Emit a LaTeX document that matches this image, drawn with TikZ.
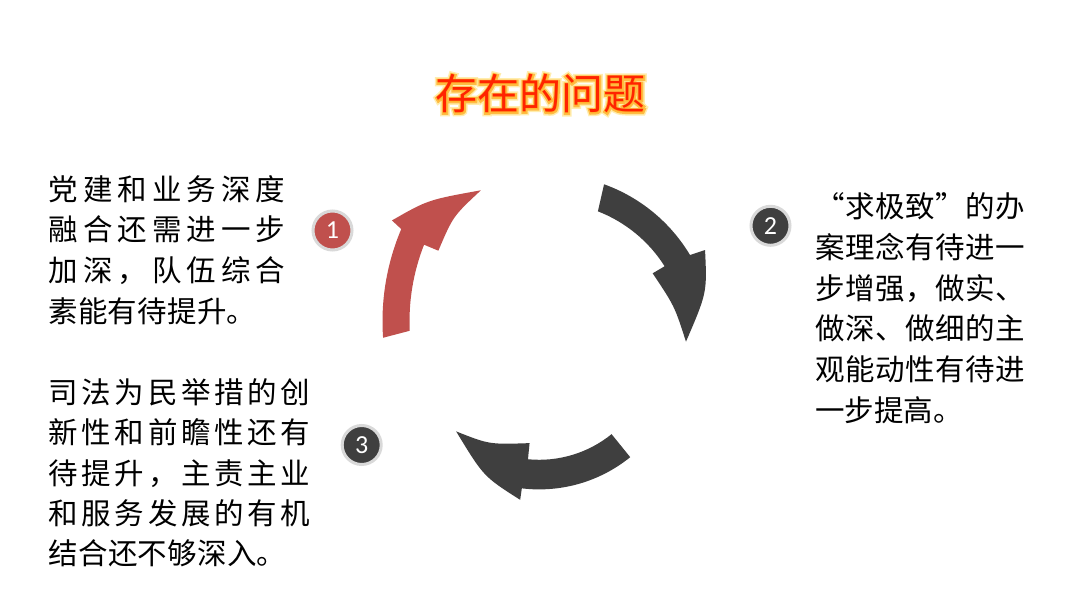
\documentclass[tikz,border=0pt]{standalone}
\usepackage{fontspec}
\setmainfont{Noto Sans CJK SC}
\newfontfamily\numfont{Carlito}
\newfontfamily\glowwide[FakeBold=15]{Noto Sans CJK SC}
\newfontfamily\glownarrow[FakeBold=8]{Noto Sans CJK SC}
\usetikzlibrary{calc}
\definecolor{arrowred}{HTML}{C0504D}
\definecolor{arrowdark}{HTML}{3F3F3F}
\definecolor{ringgray}{HTML}{D9D9D9}
\definecolor{titlered}{RGB}{255,36,0}
\definecolor{glowyellow}{RGB}{255,226,120}
\definecolor{gloworange}{RGB}{255,176,40}
\def\jsp#1{\ifx#1\relax\else#1\hfill\expandafter\jsp\fi}
\newcommand\jline[2]{\hbox to #1{\jsp#2\relax\unskip}}
\begin{document}
\begin{tikzpicture}[x=1pt,y=1pt,
  txt/.style={anchor=base west, inner sep=0pt, outer sep=0pt, font=\fontsize{29.5}{35}\selectfont, text=black},
  numc/.style={circle, minimum size=39pt, inner sep=0pt, draw=ringgray, line width=3pt, text=white, font=\numfont\fontsize{26}{30}\selectfont},
  titletxt/.style={anchor=base, inner sep=0pt, outer sep=0pt}]
\useasboundingbox (0,0) rectangle (1080,608);
\fill[white] (0,0) rectangle (1080,608);

% title with glow
\coordinate (tpos) at (540.5,498);
\node[titletxt, text=glowyellow, opacity=0.6, font=\glowwide\fontsize{42}{50}\selectfont] (glowa) at (tpos) {存在的问题};
\node[titletxt, text=gloworange, opacity=0.8, font=\glownarrow\fontsize{42}{50}\selectfont] (glowb) at (tpos) {存在的问题};
\node[titletxt, text=titlered, font=\fontsize{42}{50}\selectfont] (title) at (tpos) {存在的问题};

% red arrow (1)
\begin{scope}[shift={(618.5,286.7)}]
\fill[arrowred] (184:236) arc[start angle=184, end angle=157, radius=236]
  -- (156:248) .. controls (147.5:226) .. (136.4:190)
  .. controls (147.6:196) .. (158.6:193.5)
  -- (158.5:209) arc[start angle=158.5, end angle=182.6, radius=209] -- cycle;
\end{scope}

% dark arrow (2)
\begin{scope}[shift={(548,268)}]
\fill[arrowdark] (70.2:165.5) arc[start angle=70.2, end angle=30.9, radius=165.5]
  -- (29.8:181) .. controls (16.6:166) .. (-0.7:138)
  .. controls (15:131) .. (32.5:124.1)
  -- (32.3:138) arc[start angle=32.3, end angle=68.8, radius=138] -- cycle;
\end{scope}

% dark arrow (3)
\begin{scope}[shift={(539.2,263.2)}]
\fill[arrowdark] (-51:144.6) arc[start angle=-51, end angle=-96.9, radius=144.6]
  -- (-97:156.2) .. controls (-112.9:143) .. (-133.8:120)
  .. controls (-116.6:111.5) .. (-95.6:98.8)
  -- (-95.6:115) arc[start angle=-95.6, end angle=-51, radius=115] -- cycle;
\end{scope}

% number badges
\node[numc, fill=arrowred] (n1) at (332.5,377.5) {1};
\node[numc, fill=arrowdark] (n2) at (770.5,382.2) {2};
\node[numc, fill=arrowdark] (n3) at (361.7,163) {3};

% block 1
\node[txt] (a1) at (48.5,407.6) {\jline{237pt}{党建和业务深度}};
\node[txt] (a2) at (48.5,367.0) {\jline{237pt}{融合还需进一步}};
\node[txt] (a3) at (48.5,326.4) {\jline{237pt}{加深，队伍综合}};
\node[txt] (a4) at (48.5,285.8) {\jline{208pt}{素能有待提升。}};

% block 2
\node[txt] (b1) at (815,390.1) {\jline{210pt}{“求极致”的办}};
\node[txt] (b2) at (815,349.4) {\jline{210pt}{案理念有待进一}};
\node[txt] (b3) at (815,308.8) {\jline{210pt}{步增强，做实、}};
\node[txt] (b4) at (815,268.1) {\jline{210pt}{做深、做细的主}};
\node[txt] (b5) at (815,227.4) {\jline{210pt}{观能动性有待进}};
\node[txt] (b6) at (815,186.8) {\jline{145pt}{一步提高。}};

% block 3
\node[txt] (c1) at (48.5,204.3) {\jline{262pt}{司法为民举措的创}};
\node[txt] (c2) at (48.5,164.1) {\jline{262pt}{新性和前瞻性还有}};
\node[txt] (c3) at (48.5,123.9) {\jline{262pt}{待提升，主责主业}};
\node[txt] (c4) at (48.5,83.7) {\jline{262pt}{和服务发展的有机}};
\node[txt] (c5) at (48.5,43.5) {\jline{238pt}{结合还不够深入。}};
\end{tikzpicture}
\end{document}
